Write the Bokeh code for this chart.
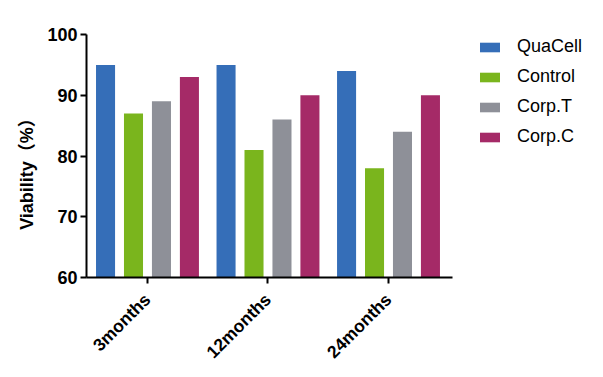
from bokeh.plotting import figure
from bokeh.models import Range1d, FixedTicker, Legend, LegendItem
from bokeh.embed import file_html
from bokeh.resources import INLINE
import math

months = ["3months", "12months", "24months"]
series = ["QuaCell", "Control", "Corp.T", "Corp.C"]
quacell = [95, 95, 94]
control = [87, 81, 78]
corp_t = [89, 86, 84]
corp_c = [93, 90, 90]
colors = ["#356eb8", "#7ab51d", "#8e9098", "#a52a67"]
y_ticks = [60, 70, 80, 90, 100]

values = [quacell, control, corp_t, corp_c]
offsets = [-0.348, -0.116, 0.116, 0.348]

p = figure(width=603, height=377, output_backend="svg", toolbar_location=None,
           x_range=Range1d(-0.506, 2.531), y_range=Range1d(60, 100),
           min_border_left=86, min_border_right=151, min_border_top=34, min_border_bottom=100)
p.frame_width = 366
p.frame_height = 243

xs = list(range(len(months)))
renderers = []
for vals, off, col in zip(values, offsets, colors):
    r = p.vbar(x=[x + off for x in xs], top=vals, bottom=60, width=0.158,
               fill_color=col, line_color=None)
    renderers.append(r)

p.xgrid.visible = False
p.ygrid.visible = False
p.outline_line_color = None
p.background_fill_color = "white"
p.border_fill_color = "white"

FONT = "Liberation Sans"
for ax in (p.xaxis[0], p.yaxis[0]):
    ax.axis_line_width = 2
    ax.axis_line_color = "black"
    ax.major_tick_line_width = 2
    ax.major_tick_line_color = "black"
    ax.major_tick_out = 6
    ax.major_tick_in = 0
    ax.minor_tick_line_color = None
    ax.major_label_text_font = FONT
    ax.major_label_text_font_style = "bold"
    ax.major_label_text_color = "black"

p.yaxis[0].ticker = FixedTicker(ticks=y_ticks)
p.yaxis[0].major_label_text_font_size = "18px"
p.yaxis[0].major_label_standoff = 3
p.yaxis[0].axis_label = "Viability（%）\u3000\u3000"
p.yaxis[0].axis_label_text_font = "'Liberation Sans', 'Noto Sans CJK SC'"
p.yaxis[0].axis_label_text_font_style = "bold"
p.yaxis[0].axis_label_text_font_size = "18px"
p.yaxis[0].axis_label_text_color = "black"
p.yaxis[0].axis_label_standoff = 7

p.xaxis[0].ticker = FixedTicker(ticks=xs)
p.xaxis[0].major_label_overrides = {i: m for i, m in enumerate(months)}
p.xaxis[0].major_label_orientation = math.pi / 4
p.xaxis[0].major_label_text_font_size = "17.5px"
p.xaxis[0].major_label_standoff = 13

legend = Legend(items=[LegendItem(label=s, renderers=[r]) for s, r in zip(series, renderers)],
                location=(25, 130))
legend.label_text_font = FONT
legend.label_text_font_size = "18px"
legend.label_text_color = "black"
legend.glyph_width = 25
legend.glyph_height = 12
legend.label_height = 20
legend.label_standoff = 15
legend.spacing = 9
legend.border_line_color = None
legend.background_fill_alpha = 0
legend.padding = 0
legend.margin = 0
p.add_layout(legend, "right")

open("out.html", "w").write(file_html(p, INLINE))
